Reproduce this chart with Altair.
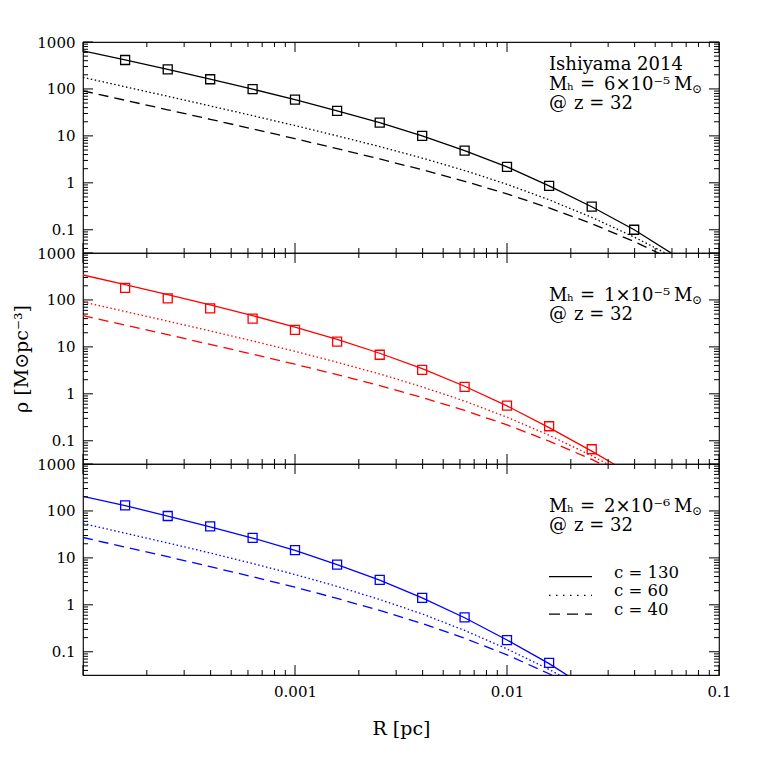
import altair as alt
import pandas as pd

# ---------------- data ----------------
R = [1.0e-4, 1.58e-4, 2.51e-4, 3.98e-4, 6.31e-4, 1.0e-3, 1.58e-3, 2.51e-3,
     3.98e-3, 6.31e-3, 1.0e-2, 1.58e-2, 2.51e-2, 3.98e-2, 6.31e-2]

# panel 1 : Mh = 6e-5
P1_SOLID = [650, 414, 262, 161, 99, 59, 34, 19.2, 10.0, 4.86, 2.19, 0.86, 0.31, 0.10, 0.027]
P1_DOT = [177, 111, 69.8, 43.5, 27.0, 16.6, 10.0, 5.91, 3.37, 1.83, 0.93, 0.435, 0.184, 0.070, 0.024]
P1_DASH = [91.2, 57.4, 36.0, 22.6, 14.1, 8.71, 5.34, 3.22, 1.90, 1.08, 0.58, 0.292, 0.135, 0.056, 0.021]
P1_SQ_R = [1.58e-4, 2.51e-4, 3.98e-4, 6.31e-4, 1.0e-3, 1.58e-3, 2.51e-3, 3.98e-3,
           6.31e-3, 1.0e-2, 1.58e-2, 2.51e-2, 3.98e-2]
P1_SQ = [414, 262, 161, 99, 59, 34, 19.2, 10.0, 4.86, 2.19, 0.86, 0.31, 0.10]

# panel 2 : Mh = 1e-5
P2_SOLID = [340, 211, 130, 78.3, 46.3, 26.4, 14.4, 7.32, 3.43, 1.45, 0.554, 0.191, 0.060, 0.0178, 0.005]
P2_DOT = [90.7, 56.8, 35.3, 21.9, 13.4, 8.03, 4.70, 2.65, 1.41, 0.70, 0.318, 0.131, 0.048, 0.016, 0.005]
P2_DASH = [46.3, 29.1, 18.2, 11.3, 6.99, 4.27, 2.56, 1.49, 0.836, 0.442, 0.218, 0.098, 0.040, 0.0144, 0.0045]
P2_SQ_R = [1.58e-4, 2.51e-4, 3.98e-4, 6.31e-4, 1.0e-3, 1.58e-3, 2.51e-3, 3.98e-3,
           6.31e-3, 1.0e-2, 1.58e-2, 2.51e-2]
P2_SQ = [180, 108, 66, 40, 23, 12.9, 6.8, 3.24, 1.41, 0.56, 0.204, 0.066]

# panel 3 : Mh = 2e-6
P3_SOLID = [205, 130, 78, 46, 26.5, 14.4, 7.2, 3.35, 1.40, 0.53, 0.178, 0.056, 0.0147, 0.004, 0.001]
P3_DOT = [54, 33.6, 20.8, 12.7, 7.6, 4.42, 2.47, 1.30, 0.64, 0.285, 0.115, 0.042, 0.0137, 0.004, 0.0012]
P3_DASH = [27.2, 17.0, 10.6, 6.5, 3.97, 2.37, 1.37, 0.76, 0.40, 0.194, 0.086, 0.034, 0.0122, 0.004, 0.0012]
P3_SQ_R = [1.58e-4, 2.51e-4, 3.98e-4, 6.31e-4, 1.0e-3, 1.58e-3, 2.51e-3, 3.98e-3,
           6.31e-3, 1.0e-2, 1.58e-2]
P3_SQ = [132, 78, 47, 26.7, 14.6, 7.2, 3.4, 1.41, 0.54, 0.177, 0.058]

LEGEND_LABELS = ["c = 130", "c = 60", "c = 40"]
Y_LABELS = [0.1, 1, 10, 100, 1000]
X_LABELS = [0.001, 0.01, 0.1]
X_MAJOR = [1e-4, 1e-3, 1e-2, 1e-1]
X_MINOR = [m * 10.0 ** e for e in (-4, -3, -2) for m in range(2, 10)]
Y_MAJOR = [0.1, 1, 10, 100, 1000]
Y_MINOR = [m * 10.0 ** e for e in (-2, -1, 0, 1, 2) for m in range(2, 10)
           if m * 10.0 ** e >= 0.032]

# ---------------- styling ----------------
W, H = 636, 211
FONT = "DejaVu Serif"
xs = alt.Scale(type="log", domain=[1e-4, 0.1], nice=False)
ys = alt.Scale(type="log", domain=[0.032, 1000], nice=False)
DOT = [1.5, 2.5]
DASH = [10, 6]


def make_axes(last, ytitle):
    yaxis = alt.Axis(values=Y_LABELS, format="~g", ticks=False, domain=False, grid=False,
                     labelFont=FONT, labelFontSize=15, labelColor="black", labelPadding=8,
                     labelOverlap=False, labelFlush=False,
                     title="ρ [M⊙pc⁻³]" if ytitle else "",
                     titleFont=FONT, titleFontSize=19, titleFontWeight="normal",
                     titleColor="black", titlePadding=5)
    if last:
        xaxis = alt.Axis(values=X_LABELS, format="~g", ticks=False, domain=False, grid=False,
                         labelFont=FONT, labelFontSize=15, labelColor="black", labelPadding=9,
                         labelOverlap=False, labelFlush=False, title="R [pc]",
                         titleFont=FONT, titleFontSize=19, titleFontWeight="normal",
                         titleColor="black", titlePadding=20)
    else:
        xaxis = None
    return xaxis, yaxis


def text(s, x, y, size=18, align="left"):
    return alt.Chart(pd.DataFrame({"t": [s]})).mark_text(
        align=align, baseline="middle", font=FONT, fontSize=size, color="black"
    ).encode(x=alt.value(x), y=alt.value(y), text="t:N")


def panel(solid, dot, dash, sq_r, sq, color, mass, first=False, last=False, ytitle=False):
    xaxis, yaxis = make_axes(last, ytitle)

    def X(f):
        return alt.X(f, scale=xs, axis=xaxis)

    def Y(f):
        return alt.Y(f, scale=ys, axis=yaxis)

    def curve(vals, dsh=None):
        df = pd.DataFrame({"r": R, "rho": vals})
        kw = dict(color=color, strokeWidth=1.3, clip=True)
        if dsh:
            kw["strokeDash"] = dsh
        return alt.Chart(df).mark_line(**kw).encode(x=X("r:Q"), y=Y("rho:Q"))

    sqdf = pd.DataFrame({"r": sq_r, "rho": sq})
    squares = alt.Chart(sqdf).mark_point(shape="square", filled=False, size=81,
                                         strokeWidth=1.3, color=color, opacity=1).encode(
        x=X("r:Q"), y=Y("rho:Q"))
    layers = [squares, curve(solid), curve(dot, DOT), curve(dash, DASH)]

    # inward ticks on all four sides
    for vals, L in ((Y_MAJOR, 10), (Y_MINOR, 5)):
        df = pd.DataFrame({"r": vals})
        layers.append(alt.Chart(df).mark_rule(color="black", strokeWidth=1).encode(
            y=Y("r:Q"), x=alt.value(0), x2=alt.value(L)))
        layers.append(alt.Chart(df).mark_rule(color="black", strokeWidth=1).encode(
            y=Y("r:Q"), x=alt.value(W - L), x2=alt.value(W)))
    for vals, L in ((X_MAJOR, 10), (X_MINOR, 5)):
        df = pd.DataFrame({"r": vals})
        layers.append(alt.Chart(df).mark_rule(color="black", strokeWidth=1).encode(
            x=X("r:Q"), y=alt.value(0), y2=alt.value(L)))
        layers.append(alt.Chart(df).mark_rule(color="black", strokeWidth=1).encode(
            x=X("r:Q"), y=alt.value(H - L), y2=alt.value(H)))

    if first:
        layers.append(text("Ishiyama 2014", 466, 22.5))
    off = 42.5
    layers.append(text("M", 466, off))
    layers.append(text("h", 484, off + 2, size=10))
    layers.append(text("=", 497, off))
    layers.append(text(mass, 521, off))
    layers.append(text("M", 591, off))
    layers.append(text("⊙", 609, off + 4, size=12))
    layers.append(text("@", 466, off + 19))
    layers.append(text("z = 32", 491, off + 19))
    if last:
        for i, (lab, d) in enumerate(zip(LEGEND_LABELS, [None, [1.5, 5.5], [11, 7]])):
            yy = 112.7 + 18.7 * i
            kw = dict(color="black", strokeWidth=1.3)
            if d:
                kw["strokeDash"] = d
            layers.append(alt.Chart(pd.DataFrame({"t": [lab]})).mark_rule(**kw).encode(
                x=alt.value(466), x2=alt.value(509), y=alt.value(yy)))
            layers.append(text(lab, 531, yy - 4, size=16.5))
    return alt.layer(*layers).properties(width=W, height=H)


p1 = panel(P1_SOLID, P1_DOT, P1_DASH, P1_SQ_R, P1_SQ, "black", "6×10⁻⁵", first=True)
p2 = panel(P2_SOLID, P2_DOT, P2_DASH, P2_SQ_R, P2_SQ, "#ff0000", "1×10⁻⁵", ytitle=True)
p3 = panel(P3_SOLID, P3_DOT, P3_DASH, P3_SQ_R, P3_SQ, "#0000ff", "2×10⁻⁶", last=True)

chart = alt.vconcat(p1, p2, p3, spacing=0, bounds="flush").properties(
    padding={"top": 26, "left": 4, "right": 5, "bottom": 5}
).configure_view(stroke="#111", strokeWidth=1.2)

chart.save("out.html", embed_options={"renderer": "svg", "actions": False})
